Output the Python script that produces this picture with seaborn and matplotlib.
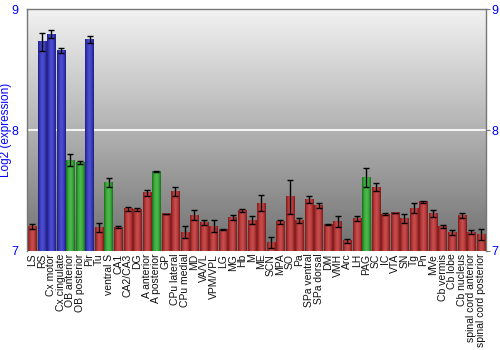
import numpy as np
import pandas as pd
import matplotlib
matplotlib.use("Agg")
import matplotlib.pyplot as plt
import matplotlib.transforms as mtransforms
import seaborn as sns
from matplotlib.colors import LinearSegmentedColormap

categories = ["LS", "RS", "Cx motor", "Cx cingulate", "OB anterior", "OB posterior", "Pir",
              "Tu", "ventral S", "CA1", "CA2/CA3", "DG", "A anterior", "A posterior", "GP",
              "CPu lateral", "CPu medial", "MD", "VA/VL", "VPM/VPL", "LG", "MG", "Hb", "M",
              "ME", "SCN", "MPA", "SO", "Pa", "SPa ventral", "SPa dorsal", "DM", "VMH", "Arc",
              "LH", "PAG", "SC", "IC", "VTA", "SN", "Tg", "Pn", "MVe", "Cb vermis", "Cb lobe",
              "Cb nucleus", "spinal cord anterior", "spinal cord posterior"]
values = [7.204, 8.732, 8.796, 8.660, 7.751, 7.732, 8.751,
          7.193, 7.566, 7.196, 7.348, 7.343, 7.481, 7.657, 7.307,
          7.494, 7.155, 7.298, 7.235, 7.204, 7.174, 7.279, 7.334, 7.254,
          7.395, 7.072, 7.243, 7.450, 7.254, 7.428, 7.373, 7.221, 7.246, 7.083,
          7.268, 7.610, 7.530, 7.304, 7.315, 7.268, 7.354, 7.406, 7.309, 7.202, 7.152,
          7.296, 7.155, 7.138]
errors = [0.022, 0.076, 0.035, 0.023, 0.05, 0.014, 0.026,
          0.04, 0.037, 0.007, 0.02, 0.011, 0.025, 0.003, 0.003,
          0.037, 0.05, 0.045, 0.023, 0.05, 0.004, 0.02, 0.01, 0.032,
          0.065, 0.044, 0.017, 0.14, 0.02, 0.028, 0.02, 0.005, 0.044, 0.02,
          0.02, 0.077, 0.036, 0.01, 0.003, 0.037, 0.04, 0.011, 0.03, 0.01, 0.024,
          0.022, 0.017, 0.047]
groups = ["red", "blue", "blue", "blue", "green", "green", "blue"] + ["red"] * 41
groups[8] = "green"    # ventral S
groups[13] = "green"   # A posterior
groups[35] = "green"   # PAG
y_ticks = [7, 8, 9]

df = pd.DataFrame({"region": categories, "value": values, "err": errors, "group": groups})

shades = {
    "red": ["#7a1a1a", "#b83a3a", "#c85050", "#b83a3a", "#7a1a1a"],
    "blue": ["#1e1e80", "#3c3cc0", "#5050d0", "#3c3cc0", "#1e1e80"],
    "green": ["#1a6e1a", "#3aa83a", "#50bb50", "#3aa83a", "#1a6e1a"],
}
base = {"red": "#b83a3a", "blue": "#3c3cc0", "green": "#3aa83a"}

plt.rcParams["font.family"] = ["Liberation Sans", "DejaVu Sans"]
fig = plt.figure(figsize=(5, 3.5), dpi=100)
ax = fig.add_axes([0.054, 0.283, 0.918, 0.690])

sns.barplot(data=df, x="region", y="value", hue="group", palette=base, dodge=False,
            legend=False, errorbar=None, width=0.87, ax=ax, order=categories)

ax.set_ylim(7, 9)
ax.set_xlim(-0.55, len(categories) - 0.45)

# background gradient
bg = LinearSegmentedColormap.from_list("bg", ["#707070", "#b2b2b2", "#f2f2f2"])
grad = np.linspace(0, 1, 256).reshape(-1, 1)
ax.imshow(grad, cmap=bg, aspect="auto", origin="lower",
          extent=[ax.get_xlim()[0], ax.get_xlim()[1], 7, 9], zorder=0)

# shaded bars (patches sorted by position so each matches its category)
bars = sorted([p for p in ax.patches if p.get_height() > 0], key=lambda p: p.get_x())
for patch, grp in zip(bars, groups):
    x0 = patch.get_x()
    w, top = patch.get_width(), patch.get_y() + patch.get_height()
    patch.set_visible(False)
    cm = LinearSegmentedColormap.from_list("b", shades[grp])
    ax.imshow(np.linspace(0, 1, 64).reshape(1, -1), cmap=cm, aspect="auto",
              extent=[x0, x0 + w, 7, top], zorder=2)

ax.set_xlim(-0.55, len(categories) - 0.45)
ax.set_ylim(7, 9)

ax.errorbar(np.arange(len(categories)), df["value"], yerr=df["err"], fmt="none",
            ecolor="black", elinewidth=1, capsize=2.2, capthick=1, zorder=4)

ax.axhline(8, color="#f4f4f4", lw=1.5, zorder=1)

ax.set_yticks(y_ticks)
ax.set_yticklabels([str(t) for t in y_ticks])
ax.tick_params(axis="y", which="both", left=False, right=True, labelleft=True, labelright=True,
               labelcolor="#0000ff", labelsize=9, length=3, color="#777777", pad=1)
# nudge the left-side tick labels a little further from the axis
shift = mtransforms.ScaledTranslation(-2 / 72, 0, fig.dpi_scale_trans)
for tick in ax.yaxis.get_major_ticks():
    tick.label1.set_transform(tick.label1.get_transform() + shift)

ax.tick_params(axis="x", length=0, labelsize=7.5, labelcolor="#111111", pad=2)
plt.setp(ax.get_xticklabels(), rotation=90)
ax.set_xlabel("")
ax.set_ylabel("Log2 (expression)", color="#0000ff", fontsize=8.5)
ax.yaxis.set_label_coords(-0.032, 0.5)

for side in ["top", "right", "left"]:
    ax.spines[side].set_color("#777777")
    ax.spines[side].set_linewidth(1)
ax.spines["bottom"].set_visible(False)
ax.set_facecolor("white")

fig.savefig("out.png", dpi=100)
